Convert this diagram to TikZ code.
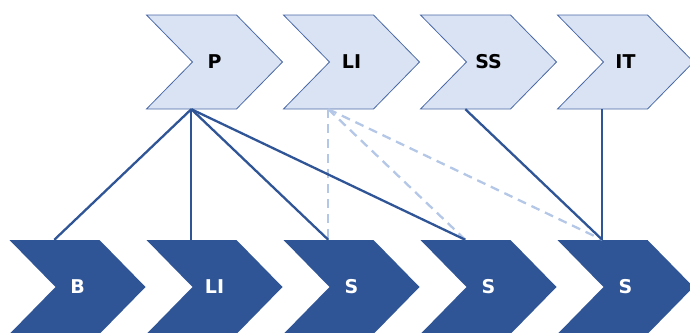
\documentclass[tikz,border=0pt]{standalone}
\usepackage{fontspec}
\setmainfont{DejaVu Sans}
\usetikzlibrary{calc}
\definecolor{chevlight}{HTML}{DAE3F3}
\definecolor{chevdark}{HTML}{2F5597}
\definecolor{chevedge}{HTML}{4A69A6}
\definecolor{dashblue}{HTML}{B4C7E7}
\tikzset{
  chevbox/.style={rectangle, inner sep=0pt, minimum width=136pt, minimum height=94pt,
                  font=\bfseries\fontsize{19}{19}\selectfont},
  upper/.style={fill=chevlight, draw=chevedge, line width=0.8pt},
  lower/.style={fill=chevdark, draw=none},
  link/.style={draw=chevdark, line width=2.3pt},
  weak/.style={draw=dashblue, line width=2.3pt, dash pattern=on 9pt off 6pt},
}
% \chevron{name}{left x}{centre y}{style}{text colour}{label}
\newcommand{\chevron}[6]{%
  \path[#4] ($(#2,#3)+(0,-47)$) -- ++(90,0) -- ++(46,47) -- ++(-46,47)
        -- ++(-90,0) -- ++(46,-47) -- cycle;
  \node[chevbox, text=#5] (#1) at ($(#2,#3)+(68,0)$) {#6};
  \coordinate (#1-top) at ($(#1.north west)+(45,0)$);
  \coordinate (#1-bot) at ($(#1.south west)+(45,0)$);
}
\begin{document}
\begin{tikzpicture}[x=1pt, y=-1pt]
  \useasboundingbox (0,0) rectangle (690,332);
  \clip (0,0) rectangle (690,332);
  % upper row of process chevrons
  \chevron{p}{146.5}{62}{upper}{black}{P}
  \chevron{li}{283.5}{62}{upper}{black}{LI}
  \chevron{ss}{420.5}{62}{upper}{black}{SS}
  \chevron{it}{557.5}{62}{upper}{black}{IT}
  % lower row of chevrons
  \chevron{b}{9.5}{287}{lower}{white}{B}
  \chevron{lb}{146.5}{287}{lower}{white}{LI}
  \chevron{sa}{283.5}{287}{lower}{white}{S}
  \chevron{sb}{420.5}{287}{lower}{white}{S}
  \chevron{sc}{557.5}{287}{lower}{white}{S}
  % weak links
  \draw[weak] (li-bot) -- (sa-top);
  \draw[weak] (li-bot) -- (sb-top);
  \draw[weak] (li-bot) -- (sc-top);
  % strong links
  \draw[link] (p-bot) -- (b-top);
  \draw[link] (p-bot) -- (lb-top);
  \draw[link] (p-bot) -- (sa-top);
  \draw[link] (p-bot) -- (sb-top);
  \draw[link] (ss-bot) -- (sc-top);
  \draw[link] (it-bot) -- (sc-top);
\end{tikzpicture}
\end{document}
